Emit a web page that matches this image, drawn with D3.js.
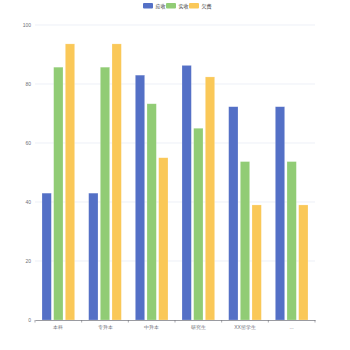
<!DOCTYPE html>
<html>
<head>
<meta charset="utf-8">
<script src="https://cdn.jsdelivr.net/npm/d3@7"></script>
<style>
  html, body { margin: 0; padding: 0; background: #fff; }
  svg { display: block; font-family: "Noto Sans CJK SC", "Noto Sans", sans-serif; }
</style>
</head>
<body>
<svg id="chart" width="350" height="350"></svg>
<script>
// Categories and series
const categories = ["本科", "专升本", "中升本", "研究生", "XX留学生", "..."];
const seriesNames = ["应收", "实收", "欠费"];
const seriesA = [43, 43, 83, 86.3, 72.3, 72.3];
const seriesB = [85.7, 85.7, 73.3, 65, 53.7, 53.7];
const seriesC = [93.6, 93.6, 55, 82.4, 39, 39];
const yTicks = [0, 20, 40, 60, 80, 100];
const colors = ["#5470c6", "#91cc75", "#fac858"];

const series = [seriesA, seriesB, seriesC];
const svg = d3.select("#chart");

const margin = { left: 35, right: 35, top: 25, bottom: 30 };
const W = 350, H = 350;

const x = d3.scaleBand().domain(categories).range([margin.left, W - margin.right]).paddingInner(0).paddingOuter(0);
const x1 = d3.scaleBand().domain(d3.range(series.length)).range([0, x.bandwidth()]).paddingInner(0.2).paddingOuter(0.6);
const y = d3.scaleLinear().domain([0, 100]).range([H - margin.bottom, margin.top]);

// Grid lines
svg.append("g").selectAll("line").data(yTicks.filter(t => t > 0)).join("line")
  .attr("x1", margin.left).attr("x2", W - margin.right)
  .attr("y1", d => y(d)).attr("y2", d => y(d))
  .attr("stroke", "#e0e6f1").attr("stroke-width", 0.6);

// Y axis labels
const yAxis = d3.axisLeft(y).tickValues(yTicks).tickSize(0).tickPadding(4);
const gy = svg.append("g").attr("transform", `translate(${margin.left},0)`).call(yAxis);
gy.select(".domain").remove();
gy.selectAll("text").attr("fill", "#6e7079").attr("font-size", 5);

// Bars
const groups = svg.append("g").selectAll("g").data(categories).join("g")
  .attr("transform", d => `translate(${x(d)},0)`);
groups.selectAll("rect").data((c, i) => series.map((s, k) => ({ k, v: s[i] }))).join("rect")
  .attr("x", d => x1(d.k))
  .attr("width", x1.bandwidth())
  .attr("y", d => y(d.v))
  .attr("height", d => y(0) - y(d.v))
  .attr("fill", d => colors[d.k])
  .attr("stroke", "rgba(255,255,255,0.35)")
  .attr("stroke-width", 0.6);

// X axis
const xAxis = d3.axisBottom(x).tickSize(0).tickPadding(5);
const gx = svg.append("g").attr("transform", `translate(0,${y(0)})`).call(xAxis);
gx.select(".domain").attr("stroke", "#6e7079").attr("stroke-width", 0.7);
gx.selectAll("text").attr("fill", "#6e7079").attr("font-size", 5);
// Boundary ticks between categories
gx.append("g").selectAll("line").data(d3.range(categories.length + 1)).join("line")
  .attr("x1", i => margin.left + i * x.step()).attr("x2", i => margin.left + i * x.step())
  .attr("y1", 0).attr("y2", 2.5)
  .attr("stroke", "#6e7079").attr("stroke-width", 0.6);

// Legend
const legend = svg.append("g").attr("transform", "translate(143,3)");
const item = legend.selectAll("g").data(seriesNames).join("g")
  .attr("transform", (d, i) => `translate(${i * 23},0)`);
item.append("rect").attr("width", 10).attr("height", 5.5).attr("rx", 1).attr("fill", (d, i) => colors[i]);
item.append("text").attr("x", 12.5).attr("y", 4.8).attr("font-size", 5).attr("fill", "#333").text(d => d);
</script>
</body>
</html>
